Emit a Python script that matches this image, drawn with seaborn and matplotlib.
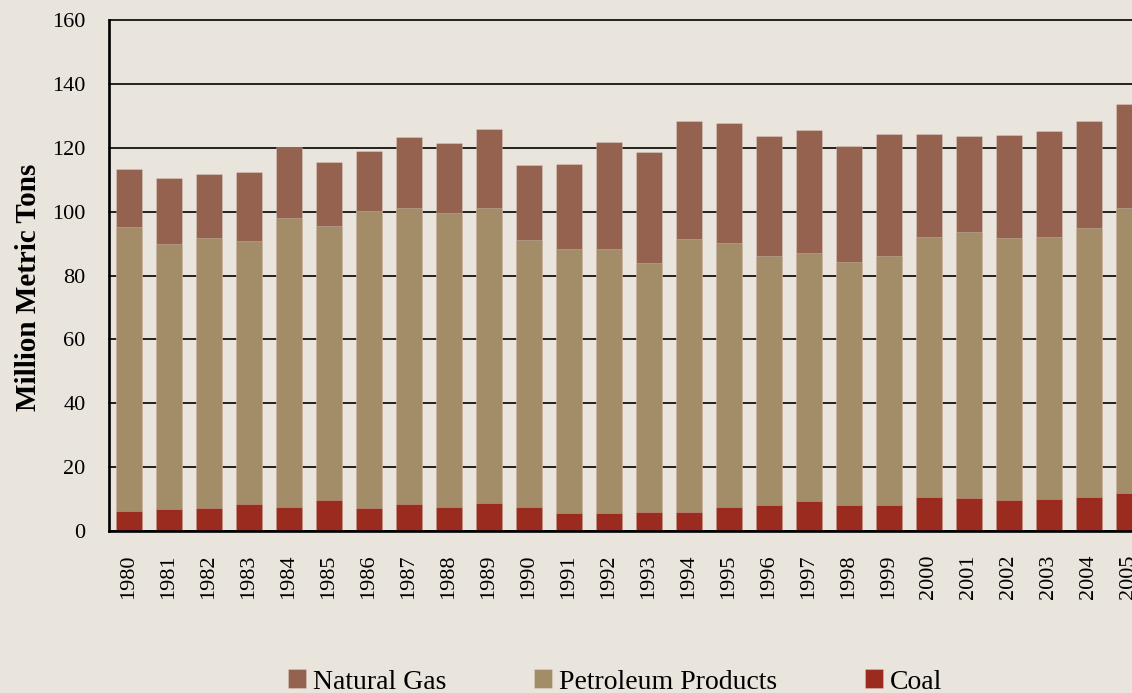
import matplotlib
matplotlib.use("Agg")
import matplotlib.pyplot as plt
import seaborn as sns
import numpy as np
import pandas as pd

years = [str(y) for y in range(1980, 2006)]
coal = [6.1, 6.9, 7.2, 8.5, 7.5, 9.5, 7.2, 8.4, 7.5, 8.8, 7.4, 5.6, 5.6,
        5.9, 6.0, 7.3, 8.1, 9.2, 8.1, 8.2, 10.7, 10.3, 9.7, 10.0, 10.7, 11.8]
petroleum = [89.2, 83.0, 84.5, 82.3, 90.5, 86.0, 93.1, 92.8, 92.2, 92.4, 83.7,
             82.8, 82.8, 78.0, 85.4, 82.9, 78.0, 77.8, 76.0, 77.8, 81.4, 83.3,
             82.1, 82.1, 84.3, 89.5]
natural_gas = [18.2, 20.8, 20.0, 21.6, 22.2, 20.1, 18.8, 22.2, 21.8, 24.7, 23.5,
               26.5, 33.4, 34.8, 37.0, 37.5, 37.6, 38.6, 36.4, 38.5, 32.3, 30.1,
               32.1, 33.1, 33.4, 32.4]
series_labels = ["Natural Gas", "Petroleum Products", "Coal"]
y_ticks = [0, 20, 40, 60, 80, 100, 120, 140, 160]

BG = "#E9E4DC"
C_GAS = "#966250"
C_PET = "#A38D69"
C_COAL = "#9B2B1E"

sns.set_theme(style="white")
plt.rcParams["font.family"] = ["Liberation Serif", "DejaVu Serif"]

df = pd.DataFrame({"year": years, "coal": coal, "pet": petroleum, "gas": natural_gas})
df["pet_top"] = df["coal"] + df["pet"]
df["total"] = df["pet_top"] + df["gas"]

fig = plt.figure(figsize=(11.32, 6.93), dpi=100, facecolor=BG)
ax = fig.add_axes([109 / 1132, (693 - 530.7) / 693, 1040 / 1132, 510.4 / 693])
ax.set_facecolor(BG)

edge = dict(edgecolor=(1, 1, 1, 0.22), linewidth=0.7)
sns.barplot(data=df, x="year", y="total", color=C_GAS, saturation=1, width=0.65,
            ax=ax, label=series_labels[0], **edge)
sns.barplot(data=df, x="year", y="pet_top", color=C_PET, saturation=1, width=0.65,
            ax=ax, label=series_labels[1], **edge)
sns.barplot(data=df, x="year", y="coal", color=C_COAL, saturation=1, width=0.65,
            ax=ax, label=series_labels[2], **edge)

ax.set_ylim(0, 160)
ax.set_xlim(-0.5, len(years) - 0.5)
ax.set_yticks(y_ticks)
ax.set_yticklabels([str(t) for t in y_ticks])
ax.yaxis.grid(True, color="black", linewidth=1.2)
ax.xaxis.grid(False)
ax.set_axisbelow(True)
for g in ax.get_ygridlines():
    g.set_clip_on(False)

ax.tick_params(axis="y", length=0, pad=17, labelsize=16, colors="black")
ax.tick_params(axis="x", length=0, pad=17, labelsize=16, colors="black", rotation=90)

for s in ["top", "right"]:
    ax.spines[s].set_visible(False)
for s in ["left", "bottom"]:
    ax.spines[s].set_color("black")
    ax.spines[s].set_linewidth(1.9)

ax.set_xlabel("")
ax.set_ylabel("Million Metric Tons", fontsize=21, fontweight="bold", color="black")
ax.yaxis.set_label_coords(-0.064, 0.4775)

if ax.get_legend() is not None:
    ax.get_legend().remove()
handles, labels = ax.get_legend_handles_labels()
leg = fig.legend(handles, labels, loc="center", ncol=3,
                 bbox_to_anchor=(615 / 1132, (693 - 682) / 693),
                 frameon=False, fontsize=20, handlelength=0.65, handleheight=0.65,
                 handletextpad=0.25, columnspacing=3.17, borderpad=0, borderaxespad=0)
for t in leg.get_texts():
    t.set_color("black")

fig.savefig("out.png", dpi=100, facecolor=BG)
